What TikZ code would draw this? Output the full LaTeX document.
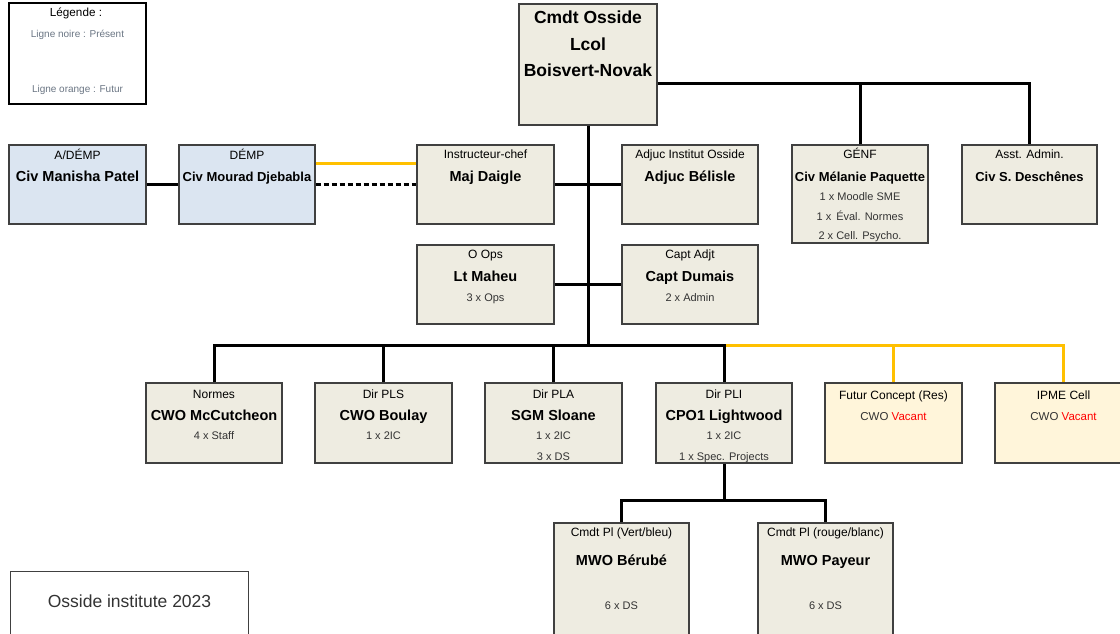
\documentclass[tikz,border=0pt]{standalone}
\usepackage{fontspec}
\setmainfont{Liberation Sans}
\definecolor{beige}{HTML}{EEECE1}
\definecolor{paleblue}{HTML}{DBE5F1}
\definecolor{paleyellow}{HTML}{FFF5DA}
\definecolor{gold}{HTML}{FFC000}
\definecolor{boxline}{HTML}{404040}
\definecolor{subgray}{HTML}{333333}
\definecolor{leggray}{HTML}{6B7684}
\definecolor{vacred}{HTML}{FF0000}
\begin{document}
\begin{tikzpicture}[x=1pt,y=-1pt,
  box/.style={draw=boxline, line width=1.4pt, fill=beige, inner sep=0pt},
  bluebox/.style={box, fill=paleblue},
  futbox/.style={box, fill=paleyellow},
  ttl/.style={anchor=base, inner sep=0pt, font=\fontsize{12}{13}\selectfont},
  nm/.style={anchor=base, inner sep=0pt, font=\bfseries\fontsize{14.5}{16}\selectfont},
  nms/.style={anchor=base, inner sep=0pt, font=\bfseries\fontsize{13}{15}\selectfont},
  big/.style={anchor=base, inner sep=0pt, font=\bfseries\fontsize{17.5}{19}\selectfont},
  sub/.style={anchor=base, inner sep=0pt, text=subgray, font=\fontsize{11}{12}\selectfont},
  leg/.style={anchor=base, inner sep=0pt, text=leggray, font=\fontsize{10}{11}\selectfont},
  conn/.style={line width=3pt, black},
  fut/.style={line width=3pt, gold},
  dconn/.style={line width=2.5pt, black, dash pattern=on 5pt off 3pt}]
\useasboundingbox (0,0) rectangle (1120,633);
\fill[white] (0,0) rectangle (1120,633);
\clip (0,0) rectangle (1120,633);

% helper coordinates
\coordinate (h83) at (700,83);
\coordinate (bar) at (588,345);
\coordinate (o163) at (360,163);
\coordinate (b500) at (724,500);

% boxes
\node[draw=black, line width=2.6pt, fill=white, minimum width=137, minimum height=101] (legend) at (77.5,53.5) {};
\node[box, minimum width=138, minimum height=121] (cmdt) at (588,64.5) {};
\node[bluebox, minimum width=137, minimum height=79] (ademp) at (77.5,184.5) {};
\node[bluebox, minimum width=136, minimum height=79] (demp) at (247,184.5) {};
\node[box, minimum width=137, minimum height=79] (daigle) at (485.5,184.5) {};
\node[box, minimum width=136, minimum height=79] (belisle) at (690,184.5) {};
\node[box, minimum width=136, minimum height=98] (genf) at (860,194) {};
\node[box, minimum width=135, minimum height=79] (asst) at (1029.5,184.5) {};
\node[box, minimum width=137, minimum height=79] (maheu) at (485.5,284.5) {};
\node[box, minimum width=136, minimum height=79] (dumais) at (690,284.5) {};
\node[box, minimum width=136, minimum height=80] (normes) at (214,423) {};
\node[box, minimum width=137, minimum height=80] (pls) at (383.5,423) {};
\node[box, minimum width=137, minimum height=80] (pla) at (553.5,423) {};
\node[box, minimum width=136, minimum height=80] (pli) at (724,423) {};
\node[futbox, minimum width=137, minimum height=80] (futur) at (893.5,423) {};
\node[futbox, minimum width=137, minimum height=80] (ipme) at (1063.5,423) {};
\node[box, minimum width=135, minimum height=127] (berube) at (621.5,586.5) {};
\node[box, minimum width=135, minimum height=127] (payeur) at (825.5,586.5) {};
\node[draw=boxline, line width=1pt, fill=white, minimum width=238, minimum height=79, inner sep=0pt] (osside) at (129,610.5) {};

% connectors
\draw[conn] (cmdt.east |- h83) -| (asst.north);
\draw[conn] (genf.north) -- (genf.north |- h83);
\draw[conn] (cmdt.south) -- (cmdt.south |- bar);
\draw[conn] (daigle.east) -- (belisle.west);
\draw[conn] (maheu.east) -- (dumais.west);
\draw[conn] (ademp.east) -- (demp.west);
\draw[fut] (demp.east |- o163) -- (daigle.west |- o163);
\draw[dconn] (demp.east) -- (daigle.west);
\draw[fut] (pli.north |- bar) -| (ipme.north);
\draw[fut] (futur.north) -- (futur.north |- bar);
\draw[conn] (normes.north) -- (normes.north |- bar) -- (pli.north |- bar) -- (pli.north);
\draw[conn] (pls.north) -- (pls.north |- bar);
\draw[conn] (pla.north) -- (pla.north |- bar);
\draw[conn] (pli.south) -- (pli.south |- b500);
\draw[conn] (berube.north) -- (berube.north |- b500) -- (payeur.north |- b500) -- (payeur.north);

% texts
\node[anchor=base, inner sep=0pt, font=\fontsize{11.7}{13}\selectfont] (legend-t) at (76,16) {Légende :};
\node[leg] (legend-a) at (77.5,37.7) {Ligne noire : Présent};
\node[leg] (legend-b) at (77.5,92.3) {Ligne orange : Futur};

\node[big] (cmdt-a) at (588,23) {Cmdt Osside};
\node[big] (cmdt-b) at (588,50) {Lcol};
\node[big] (cmdt-c) at (588,76) {Boisvert-Novak};

\node[ttl] (ademp-t) at (77.5,159) {A/DÉMP};
\node[nm] (ademp-n) at (77.5,181.7) {Civ Manisha Patel};

\node[ttl] (demp-t) at (247,159) {DÉMP};
\node[nms] (demp-n) at (247,181.7) {Civ Mourad Djebabla};

\node[ttl] (daigle-t) at (485.5,158) {Instructeur-chef};
\node[nm] (daigle-n) at (485.5,181.5) {Maj Daigle};

\node[ttl] (belisle-t) at (690,158) {Adjuc Institut Osside};
\node[nm] (belisle-n) at (690,181.5) {Adjuc Bélisle};

\node[ttl] (genf-t) at (860,158) {GÉNF};
\node[nms] (genf-n) at (860,181.7) {Civ Mélanie Paquette};
\node[sub] (genf-a) at (860,200) {1 x Moodle SME};
\node[sub] (genf-b) at (860,220) {1 x\, Éval. Normes};
\node[sub] (genf-c) at (860,239) {2 x Cell. Psycho.};

\node[ttl] (asst-t) at (1029.5,158) {Asst. Admin.};
\node[nms] (asst-n) at (1029.5,181.7) {Civ S. Deschênes};

\node[ttl] (maheu-t) at (485.5,258) {O Ops};
\node[nm] (maheu-n) at (485.5,281.7) {Lt Maheu};
\node[sub] (maheu-a) at (485.5,301) {3 x Ops};

\node[ttl] (dumais-t) at (690,258) {Capt Adjt};
\node[nm] (dumais-n) at (690,281.7) {Capt Dumais};
\node[sub] (dumais-a) at (690,301) {2 x Admin};

\node[ttl] (normes-t) at (214,398) {Normes};
\node[nm] (normes-n) at (214,420) {CWO McCutcheon};
\node[sub] (normes-a) at (214,439.5) {4 x Staff};

\node[ttl] (pls-t) at (383.5,398) {Dir PLS};
\node[nm] (pls-n) at (383.5,420) {CWO Boulay};
\node[sub] (pls-a) at (383.5,439.5) {1 x 2IC};

\node[ttl] (pla-t) at (553.5,398) {Dir PLA};
\node[nm] (pla-n) at (553.5,420) {SGM Sloane};
\node[sub] (pla-a) at (553.5,439.5) {1 x 2IC};
\node[sub] (pla-b) at (553.5,460) {3 x DS};

\node[ttl] (pli-t) at (724,398) {Dir PLI};
\node[nm] (pli-n) at (724,420) {CPO1 Lightwood};
\node[sub] (pli-a) at (724,439.5) {1 x 2IC};
\node[sub] (pli-b) at (724,460) {1 x Spec. Projects};

\node[ttl] (futur-t) at (893.5,399) {Futur Concept (Res)};
\node[sub, font=\fontsize{11.5}{12}\selectfont] (futur-n) at (893.5,420) {CWO \textcolor{vacred}{Vacant}};

\node[ttl] (ipme-t) at (1063.5,399) {IPME Cell};
\node[sub, font=\fontsize{11.5}{12}\selectfont] (ipme-n) at (1063.5,420) {CWO \textcolor{vacred}{Vacant}};

\node[ttl] (berube-t) at (621.5,536.7) {Cmdt Pl (Vert/bleu)};
\node[nm] (berube-n) at (621.5,565.7) {MWO Bérubé};
\node[sub] (berube-a) at (621.5,609) {6 x DS};

\node[ttl] (payeur-t) at (825.5,536.7) {Cmdt Pl (rouge/blanc)};
\node[nm] (payeur-n) at (825.5,565.7) {MWO Payeur};
\node[sub] (payeur-a) at (825.5,609) {6 x DS};

\node[anchor=base, inner sep=0pt, text=subgray, font=\fontsize{17.5}{19}\selectfont] (osside-t) at (129.5,607) {Osside institute 2023};
\end{tikzpicture}
\end{document}
